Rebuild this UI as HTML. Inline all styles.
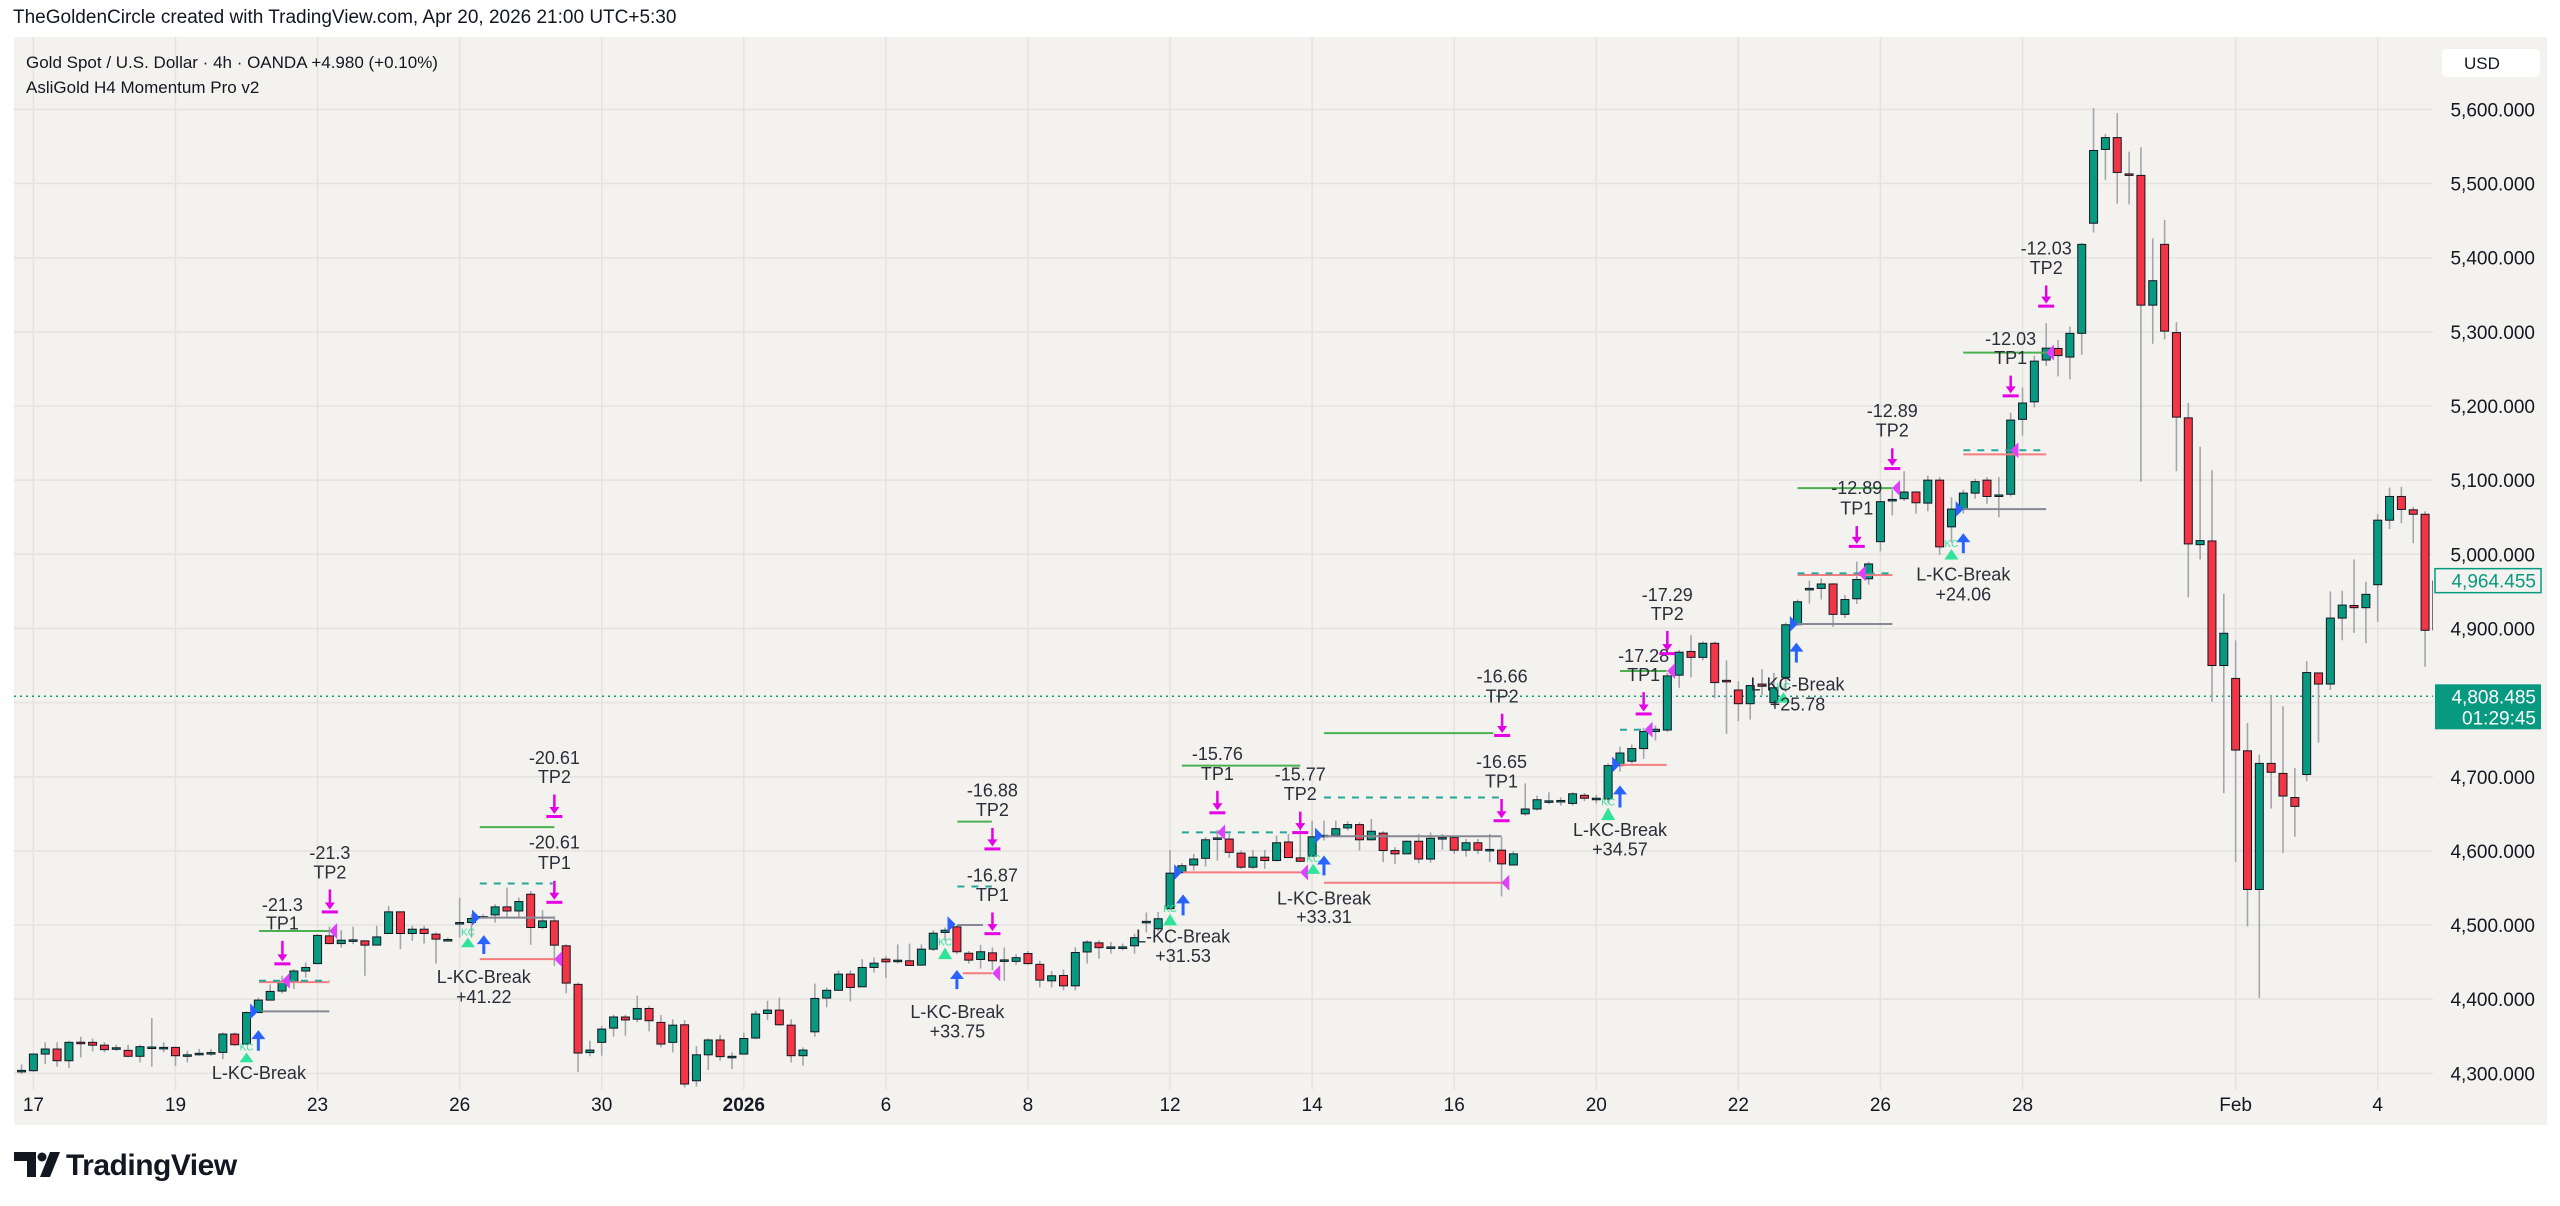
<!DOCTYPE html>
<html><head><meta charset="utf-8"><title>Gold Spot 4h chart</title>
<style>
html,body{margin:0;padding:0;background:#fff;}
body{width:2560px;height:1206px;overflow:hidden;font-family:"Liberation Sans",sans-serif;}
svg{display:block;}
</style></head>
<body>
<svg id="chart" width="2560" height="1206" xmlns="http://www.w3.org/2000/svg" font-family="Liberation Sans, sans-serif">
  <defs><clipPath id="plotClip"><rect x="14" y="37" width="2419" height="1088"/></clipPath></defs>
  <text x="13" y="23" font-size="19" fill="#131722">TheGoldenCircle created with TradingView.com, Apr 20, 2026 21:00 UTC+5:30</text>
  <rect x="14" y="37" width="2533" height="1088" fill="#f3f2ef"/>
  <g id="grid"></g>
  <g id="xlabels"></g>
  <g id="ylabels"></g>
  <g clip-path="url(#plotClip)">
    <g id="lastline"></g>
    <g id="candles"></g>
    <g id="annot"></g>
  </g>
  <text x="26" y="68" font-size="17" fill="#131722">Gold Spot / U.S. Dollar · 4h · OANDA  +4.980 (+0.10%)</text>
  <text x="26" y="93" font-size="17" fill="#131722">AsliGold H4 Momentum Pro v2</text>
  <rect x="2442" y="49" width="98" height="28" rx="5" fill="#ffffff"/>
  <text x="2464" y="69" font-size="17" fill="#131722">USD</text>
  <g id="pricetags"></g>
  <g>
    <path d="M14 1152 H36 V1177 H27 V1161 H14 Z" fill="#131722"/>
    <circle cx="42" cy="1157" r="4.5" fill="#131722"/>
    <path d="M50 1152 H60 L50 1177 H40 Z" fill="#131722"/>
    <text x="66" y="1175" font-size="30" font-weight="bold" fill="#131722" letter-spacing="-0.5">TradingView</text>
  </g>
</svg>
<script>
const opens=[4303,4303.6,4326,4332.8,4317,4342,4341.8,4338,4334,4331,4323,4335,4335,4335,4325,4327,4328,4328.3,4353,4339.5,4382,4398.8,4411,4424,4438,4448,4485.4,4475,4480,4478.7,4473,4488.6,4517.8,4488.6,4494.4,4487.7,4480.5,4503.4,4503.4,4511.5,4513.7,4524.5,4519,4541.6,4496.7,4505.6,4472,4420,4328,4341.8,4361,4376,4373,4387.5,4368.7,4341.8,4365.5,4290,4325,4345,4323,4326,4347.6,4380.8,4385.3,4365,4323.8,4356,4401.5,4412,4433.8,4416.7,4442.8,4454,4452.6,4451.8,4446,4467.5,4490,4497.6,4462,4453.6,4462.5,4453,4451,4461.6,4447,4424.8,4432,4418,4463.7,4476,4470.5,4470.5,4472,4505,4495,4522,4571,4581,4590,4617.5,4616,4597,4578,4591.5,4587,4612,4590.6,4593,4621,4621,4631,4635.5,4615,4624,4600.5,4596,4613,4589,4618,4618,4601,4611,4602,4601,4581,4650,4656.5,4667.5,4668,4664,4675,4671,4670,4715,4721,4738,4761,4763,4837,4869,4861,4880,4830,4817,4798.5,4825,4800,4834,4905,4954,4954,4960,4919,4940,4967,5017,5074,5075,5084,5069,5100,5037,5061,5082.5,5100,5080,5081,5182,5205.6,5262,5277.6,5266,5298,5446.5,5546,5562,5513,5511,5336,5418,5299,5184,5013,5018,4850,4832.6,4735,4548,4718,4704.5,4672,4703,4840,4825,4914,4931,4928,4959,5046,5078,5060,5054,4898];
const highs=[4312,4327,4341.8,4341.8,4344,4349.4,4347,4341.8,4338.6,4338.6,4338.6,4374.5,4341.8,4336,4330.5,4332.8,4332.8,4355,4355,4383.5,4402,4420,4431.6,4440.5,4449.5,4487.7,4497.6,4493,4497.6,4478.7,4499,4525.8,4518,4499,4499,4490,4483,4537,4514.6,4514.6,4528,4550.5,4537,4546,4520,4512,4474,4422.6,4344,4364,4379,4379,4404.6,4391,4378.6,4373,4371.8,4337,4347,4352,4328.3,4355,4384.4,4397.9,4402.4,4373,4335,4421,4415.8,4438.3,4439,4454,4456.3,4458.5,4474,4475,4474,4493,4496.7,4500,4465,4473.3,4469.7,4469.7,4460.7,4465,4451.8,4438,4440,4470,4479.4,4479.4,4477,4475,4488.4,4517,4517.5,4601,4583.4,4596,4618.4,4628.3,4622.9,4600.5,4601.4,4601.4,4620.6,4622.9,4635.5,4640.8,4640.8,4640.8,4640,4638.6,4643,4626.5,4605,4614,4622.9,4625,4622.9,4620.6,4616,4616,4622.9,4618.4,4599.6,4691,4674.5,4679,4672.2,4679,4678,4675.5,4718,4740.7,4743.5,4766,4769,4840,4871,4891,4882.4,4882.4,4857,4829,4823,4845,4840,4908,4939,4964.6,4967.5,4961,4945,4990,4990,5084,5087,5112,5085,5106,5104,5077,5087,5102,5104,5104,5191,5225,5268,5311.6,5289,5307,5420,5601.6,5567,5595,5543,5549,5426,5451,5313,5204,5145,5113.5,4947,4884,4772.5,4730,4810.5,4795,4712,4856,4840,4950,4951,4993,4963,5054,5090,5091,5064,5058,4966];
const lows=[4299,4302,4312.6,4309,4307,4321.6,4329.6,4328.3,4330.5,4321.6,4314.8,4309,4328.3,4310,4314.8,4323.8,4323.8,4319.3,4337,4338.6,4382,4398.8,4407.8,4413.6,4429.3,4448,4474.2,4469.7,4474.2,4431.6,4473.3,4488.6,4467.5,4478.7,4475,4448,4478.7,4483,4483,4509,4503.4,4511,4511,4473.3,4494.4,4445,4407.8,4302,4323,4323.8,4349.4,4350.7,4368.7,4356.6,4335,4328.3,4281,4282,4304.5,4317,4305.8,4326,4346.2,4371.8,4364.2,4314.8,4310.3,4349.4,4389,4411.4,4397,4416.7,4436,4428.4,4448,4445,4445,4465,4478.7,4460.7,4448,4441.4,4439,4424.8,4446.4,4446.4,4416,4416,4412,4412,4448,4454.7,4461.5,4466,4461.5,4490,4492,4520.7,4569,4573.6,4579,4587,4590.6,4575.8,4575.8,4575.8,4586,4590.6,4584.8,4592.4,4614,4619.3,4627.4,4600.5,4614,4584.8,4582.5,4596,4583.4,4584,4601.4,4596,4592.4,4596,4584.8,4538.6,4580.3,4647.5,4654.3,4663,4661,4661,4667,4664,4664,4707,4718,4724,4749,4760.5,4820,4834,4857,4806,4758,4775,4777,4810,4795,4814,4905,4933.4,4939,4902,4914,4933,4959,5004,5052.5,5072,5055,5058,4999,5016,5055,5075,5068,5050,5078,5160,5198,5254,5240,5236,5269,5434,5505,5473,5472,5098,5284,5290,5112,4942,4993,4801,4678,4585,4498,4401.5,4657,4597,4619,4694,4746,4817,4884,4894,4880,4909,5034,5042,5015,4848.5,4895];
const closes=[4304,4326,4332.8,4317,4341.8,4341.5,4338,4332,4334.5,4323,4336,4335.5,4335,4323.8,4325,4327,4328,4353,4338.6,4382,4398.8,4410.5,4424,4438,4442.8,4486,4475,4479.6,4480,4472.9,4484,4517.8,4488.6,4494.4,4488.6,4481,4480.5,4503.4,4508.8,4511.5,4524.5,4519,4531.7,4496.7,4505.6,4472.9,4421.7,4327.4,4331.4,4359.7,4376,4372,4387.5,4371,4339.5,4365,4285.6,4325,4345,4322.5,4323,4347,4380,4385.3,4365.5,4323.8,4331.4,4401,4412,4433.8,4415.8,4442.8,4448.6,4450.4,4452.6,4445.5,4467.5,4489,4493,4464,4452.7,4464,4451.8,4453,4456,4448,4425.7,4431.6,4418,4463,4477,4469.5,4470.5,4470.5,4483,4505,4508.5,4570,4580,4589,4615,4617.5,4598,4578,4591.5,4587,4611,4591,4586,4619,4621,4630,4635.5,4615,4626.5,4600.5,4596,4613,4589,4617,4618,4601,4611,4601,4602,4582.5,4596,4656.5,4669,4667.5,4668,4677,4671,4671,4715,4732,4738,4761,4764,4836,4868,4861,4880,4827,4829,4798.5,4823,4822,4820,4905,4936,4954,4960,4919,4939,4966,4987,5071,5074,5084,5069.5,5100,5010,5061,5082.5,5098,5078,5080,5181,5204,5260.5,5278,5268,5298,5418,5544.6,5562,5515,5512,5336,5369,5301,5185,5014,5018.5,4850,4893.5,4736,4548,4718,4706,4674,4660,4840.5,4825,4914,4931.5,4928,4946,5046,5078,5060.5,5054,4897.5,4964];
const priceTicks=[5600,5500,5400,5300,5200,5100,5000,4900,4800,4700,4600,4500,4400,4300];
const dateTickIdx=[1,13,25,37,49,61,73,85,97,109,121,133,145,157,169,187,199];
const dateTickLabels=["17","19","23","26","30","2026","6","8","12","14","16","20","22","26","28","Feb","4"];
const lastPrice=4808.485, lastClosePrice=4964.455;
const levelLines=[[20.3,26,4383.5,"gray"],[20.05,26,4423,"red"],[20.05,26,4424.8,"teal"],[20.05,26,4492,"green"],
[38.7,45,4510,"gray"],[38.7,45,4454,"red"],[38.7,44.86,4556,"teal"],[38.7,45,4632,"green"],
[79.04,81.2,4500,"gray"],[79.5,81.95,4435,"red"],[79.04,81.95,4552,"teal"],[79.04,81.95,4639.5,"green"],
[98.1,108,4571,"red"],[98,107.25,4625,"teal"],[98,108,4715,"green"],
[110,125,4619.8,"gray"],[110,125,4557,"red"],[110,124.9,4672,"teal"],[110,124.3,4758.8,"green"],
[135,138.95,4716,"red"],[135,137.2,4763.4,"teal"],[135,138.95,4842.7,"green"],
[150,158,4906,"gray"],[150,158,4972,"red"],[150,158,4974.3,"teal"],[150,158,5089.3,"green"],
[164,171,5061,"gray"],[164,171,5134.7,"red"],[164,171,5140.4,"teal"],[164,171,5271.9,"green"]];
const exitMarks=[[22.4,4424.8],[26.4,4492],[45.4,4454],[82.4,4435],[101.4,4625],[108.4,4571],[125.4,4557],[137.5,4763.4],[139.4,4842.7],[155.5,4974.3],[158.4,5089.3],[168.4,5140.4],[171.4,5271.9]];
const entryMarks=[[19.56,4383.5],[38.3,4510],[78.46,4501],[97.6,4571.3],[109.5,4620.6],[134.6,4716.3],[149.6,4906],[163.6,5061]];
const upArrows=[[20,4357,4330.5],[39.04,4485,4461],[79,4438,4413.6],[98.1,4540,4513],[110,4592.4,4567],[135,4687,4658.5],[149.9,4879.6,4854],[164,5027,5001.5]];
const kcMarks=[[19,4328,4315],[37.7,4483,4470],[78,4469.7,4454],[97,4515,4499.6],[109.1,4582.5,4569],[134,4658.5,4641.5],[148.8,4814,4800],[163,5007,4993]];
const tpIdx=[22.03,26.04,45,45,82,82,101,108,125,125.05,137,139,155,158,168,171];
const tpTop=[4478.7,4548,4559.5,4676,4517,4631,4681,4653,4670,4785,4814,4896.6,5038,5143,5241,5362.6];
const tpBottom=[4447,4517,4530,4645.7,4487.7,4602,4650.7,4624,4640,4755,4784,4865.4,5010,5115,5213,5334];
const tpValues=["-21.3","-21.3","-20.61","-20.61","-16.87","-16.88","-15.76","-15.77","-16.65","-16.66","-17.28","-17.29","-12.89","-12.89","-12.03","-12.03"];
const tpNames=["TP1","TP2","TP1","TP2","TP1","TP2","TP1","TP2","TP1","TP2","TP1","TP2","TP1","TP2","TP1","TP2"];
const tpText1=[4527,4597,4611,4725.6,4567,4681.6,4730.5,4702.7,4720,4835,4862.6,4945,5089.3,5193,5290.6,5412.5];
const tpText2=[4502,4571,4584,4699.6,4540.7,4655,4703.6,4676.7,4693.7,4808,4837,4919.3,5062,5167,5265,5385.8];
const breakIdx=[20.05,39.04,79.04,98.1,110,135,150,164];
const breakP1=[4300.4,4430,4383,4484.8,4536,4628.4,4824.6,4973];
const breakP2=[null,4403,4356.6,4458.3,4510.8,4602,4797.4,4946];
const breakVals=["","+41.22","+33.75","+31.53","+33.31","+34.57","+25.78","+24.06"];

const NS="http://www.w3.org/2000/svg";
function X(i){return 33.4+(i-1)*11.84;}
function Y(p){return 109.4+(5600-p)*0.7415;}
function mk(tag,attrs,parent){const e=document.createElementNS(NS,tag);for(const k in attrs)e.setAttribute(k,attrs[k]);parent.appendChild(e);return e;}
const fmt=v=>v.toLocaleString("en-US",{minimumFractionDigits:3,maximumFractionDigits:3});

const grid=document.getElementById("grid"),xl=document.getElementById("xlabels"),yl=document.getElementById("ylabels");
priceTicks.forEach(p=>{
  const l=mk("line",{x1:14,x2:2433,y1:Y(p),y2:Y(p),stroke:"#e4e3e0","stroke-width":1.5},grid);
  
  
  const t=mk("text",{x:2535,y:Y(p)+7,"font-size":19,fill:"#131722","text-anchor":"end"},yl);
  
  
  t.textContent=fmt(p);
});
dateTickIdx.forEach((ix,k)=>{
  const l=mk("line",{x1:X(ix),x2:X(ix),y1:37,y2:1090,stroke:"#e4e3e0","stroke-width":1.5},grid);
  
  
  const t=mk("text",{x:X(ix),y:1111,"font-size":19,fill:"#131722","text-anchor":"middle","font-weight":dateTickLabels[k]==="2026"?"bold":"normal"},xl);
  
  
  t.textContent=dateTickLabels[k];
});
const ll=mk("line",{x1:14,x2:2433,y1:Y(lastPrice),y2:Y(lastPrice),stroke:"#089981","stroke-width":1.5,"stroke-dasharray":"2 4"},document.getElementById("lastline"));



const cg=document.getElementById("candles");
for(let i=0;i<opens.length;i++){
  const o=opens[i],h=highs[i],l=lows[i],c=closes[i],x=X(i);
  const up=c>=o;
  const w=mk("line",{x1:x,x2:x,y1:Y(h),y2:Y(l),stroke:"#a3a6ad","stroke-width":1.6},cg);
  
  
  const top=Y(Math.max(o,c)),bh=Math.max(1.5,Math.abs(Y(o)-Y(c)));
  const b=mk("rect",{x:x-4,y:top,width:8,height:bh,fill:up?"#089981":"#f23645",stroke:"#131722","stroke-width":1},cg);
  
  
}

const ag=document.getElementById("annot");
const lineCol={gray:"#868993",red:"#f77c80",teal:"#26a69a",green:"#4caf50"};
levelLines.forEach(a=>{
  const e=mk("line",{x1:X(a[0]),x2:X(a[1]),y1:Y(a[2]),y2:Y(a[2]),stroke:lineCol[a[3]],"stroke-width":2,"stroke-dasharray":a[3]==="teal"?"7 7":"none"},ag);
  
  
});
exitMarks.forEach(a=>{
  const x=X(a[0]),y=Y(a[1]);
  const e=mk("polygon",{points:`${x-5},${y} ${x+3},${y-8} ${x+3},${y+8}`,fill:"#e040fb"},ag);
  
  
});
entryMarks.forEach(a=>{
  const x=X(a[0]),y=Y(a[1]);
  const e=mk("polygon",{points:`${x+5},${y} ${x-3},${y-8} ${x-3},${y+8}`,fill:"#2962ff"},ag);
  
  
});
upArrows.forEach(a=>{
  const x=X(a[0]),y1=Y(a[1]),y2=Y(a[2]);
  const g=mk("g",{},ag);
  
  
  mk("line",{x1:x,x2:x,y1:y1+3,y2:y2,stroke:"#2962ff","stroke-width":3},g);
  mk("polygon",{points:`${x},${y1-1} ${x-7},${y1+8} ${x+7},${y1+8}`,fill:"#2962ff"},g);
});
kcMarks.forEach(a=>{
  const x=X(a[0]),y1=Y(a[1]),y2=Y(a[2]);
  const g=mk("g",{},ag);
  
  
  mk("polygon",{points:`${x},${y1} ${x-7},${y2} ${x+7},${y2}`,fill:"#2fe39a"},g);
  const t=mk("text",{x:x,y:y1-2,"font-size":10,fill:"#2fe39a","text-anchor":"middle"},g);
  t.textContent="KC";
});
tpIdx.forEach((ix,k)=>{
  const x=X(ix),y1=Y(tpTop[k]),y2=Y(tpBottom[k]);
  const g=mk("g",{},ag);
  
  
  mk("line",{x1:x,x2:x,y1:y1,y2:y2-6,stroke:"#e600e6","stroke-width":2.5},g);
  mk("polygon",{points:`${x},${y2-3} ${x-5},${y2-10} ${x+5},${y2-10}`,fill:"#e600e6"},g);
  mk("rect",{x:x-8,y:y2-2,width:16,height:3,fill:"#e600e6"},g);
  const t1=mk("text",{x:x,y:Y(tpText1[k])+6,"font-size":18,fill:"#2a2e39","text-anchor":"middle"},g);
  t1.textContent=tpValues[k];
  const t2=mk("text",{x:x,y:Y(tpText2[k])+6,"font-size":18,fill:"#2a2e39","text-anchor":"middle"},g);
  t2.textContent=tpNames[k];
});
breakIdx.forEach((ix,k)=>{
  const x=X(ix);
  const g=mk("g",{},ag);
  
  
  const t1=mk("text",{x:x,y:Y(breakP1[k])+6,"font-size":18,fill:"#2a2e39","text-anchor":"middle"},g);
  t1.textContent="L-KC-Break";
  if(breakP2[k]!==null){
    const t2=mk("text",{x:x,y:Y(breakP2[k])+6,"font-size":18,fill:"#2a2e39","text-anchor":"middle"},g);
    t2.textContent=breakVals[k];
  }
});

const pt=document.getElementById("pricetags");
const b1=mk("rect",{x:2435,y:Y(lastClosePrice)-12,width:106,height:24,fill:"#f3f2ef",stroke:"#089981","stroke-width":1.5},pt);


const t1=mk("text",{x:2536,y:Y(lastClosePrice)+7,"font-size":19,fill:"#089981","text-anchor":"end"},pt);
t1.textContent=fmt(lastClosePrice);
const b2=mk("rect",{x:2435,y:Y(lastPrice)-12,width:106,height:45,fill:"#089981"},pt);


const t2=mk("text",{x:2536,y:Y(lastPrice)+7,"font-size":19,fill:"#ffffff","text-anchor":"end"},pt);
t2.textContent=fmt(lastPrice);
const t3=mk("text",{x:2536,y:Y(lastPrice)+28,"font-size":19,fill:"#ffffff","text-anchor":"end"},pt);
t3.textContent="01:29:45";
</script>
</body></html>
